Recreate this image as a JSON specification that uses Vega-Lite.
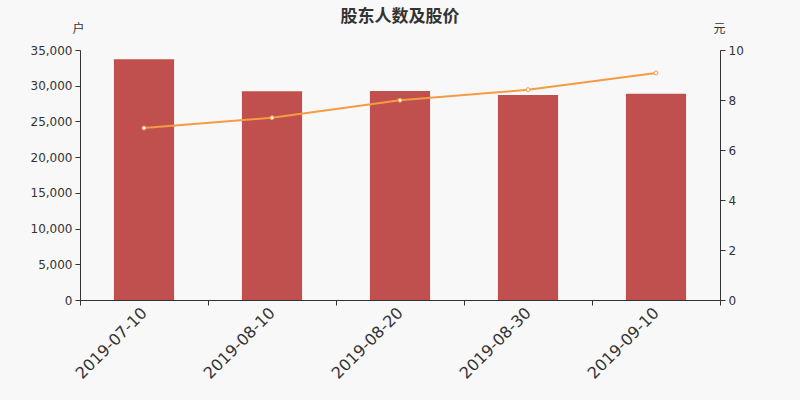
{
  "$schema": "https://vega.github.io/schema/vega-lite/v6.json",
  "width": 640,
  "height": 250,
  "autosize": {"type": "none"},
  "padding": {"left": 80, "top": 50, "right": 80, "bottom": 100},
  "background": "#f8f8f8",
  "title": {
    "text": "股东人数及股价",
    "anchor": "middle",
    "frame": "group",
    "font": "Noto Sans CJK SC",
    "fontSize": 17,
    "fontWeight": "bold",
    "color": "#333333",
    "offset": -4
  },
  "data": {
    "values": [
      {"date": "2019-07-10", "holders": 33700, "price": 6.88},
      {"date": "2019-08-10", "holders": 29220, "price": 7.29},
      {"date": "2019-08-20", "holders": 29250, "price": 7.99},
      {"date": "2019-08-30", "holders": 28700, "price": 8.41},
      {"date": "2019-09-10", "holders": 28880, "price": 9.08}
    ]
  },
  "encoding": {
    "x": {
      "field": "date",
      "type": "nominal",
      "sort": null,
      "scale": {"paddingInner": 0, "paddingOuter": 0},
      "axis": {
        "title": null,
        "tickBand": "extent",
        "labelAngle": -45,
        "labelAlign": "right",
        "labelBaseline": "middle",
        "labelFontSize": 16,
        "labelFont": "DejaVu Sans",
        "labelColor": "#333333",
        "labelPadding": 5,
        "tickSize": 5,
        "tickColor": "#333333",
        "domainColor": "#333333"
      }
    }
  },
  "layer": [
    {
      "mark": {"type": "bar", "color": "#c0504d", "width": {"band": 0.47}},
      "encoding": {
        "y": {
          "field": "holders",
          "type": "quantitative",
          "scale": {"domain": [0, 35000]},
          "axis": {
            "title": "户",
            "titleAngle": 0,
            "titleX": -2,
            "titleY": -22,
            "titleAlign": "center",
            "titleBaseline": "middle",
            "titleFont": "Noto Sans CJK SC",
            "titleFontSize": 12,
            "titleFontWeight": "normal",
            "titleColor": "#333333",
            "values": [0, 5000, 10000, 15000, 20000, 25000, 30000, 35000],
            "format": ",.0f",
            "grid": false,
            "labelFont": "DejaVu Sans",
            "labelFontSize": 12,
            "labelColor": "#333333",
            "tickSize": 5,
            "tickColor": "#333333",
            "domainColor": "#333333",
            "labelPadding": 3
          }
        }
      }
    },
    {
      "mark": {
        "type": "line",
        "color": "#f59a45",
        "strokeWidth": 2,
        "point": {"filled": true, "fill": "#ffffff", "stroke": "#f59a45", "strokeWidth": 1, "size": 16}
      },
      "encoding": {
        "y": {
          "field": "price",
          "type": "quantitative",
          "scale": {"domain": [0, 10]},
          "axis": {
            "orient": "right",
            "title": "元",
            "titleAngle": 0,
            "titleX": -1,
            "titleY": -22,
            "titleAlign": "center",
            "titleBaseline": "middle",
            "titleFont": "Noto Sans CJK SC",
            "titleFontSize": 12,
            "titleFontWeight": "normal",
            "titleColor": "#333333",
            "values": [0, 2, 4, 6, 8, 10],
            "grid": false,
            "labelFont": "DejaVu Sans",
            "labelFontSize": 12,
            "labelColor": "#333333",
            "tickSize": 5,
            "tickColor": "#333333",
            "domainColor": "#333333",
            "labelPadding": 3
          }
        }
      }
    }
  ],
  "resolve": {"scale": {"y": "independent"}},
  "config": {"view": {"stroke": null}}
}
